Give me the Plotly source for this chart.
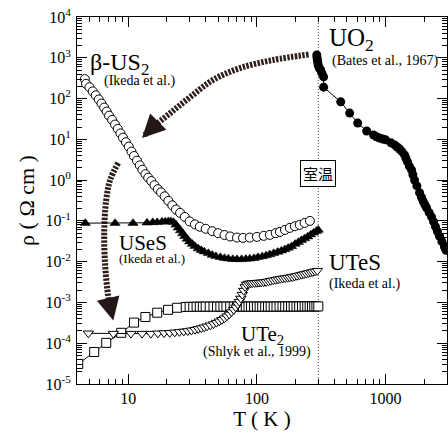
import math
import plotly.graph_objects as go

# ---------------- data ----------------
us2_T = [4.6, 4.7, 5.0, 5.3, 5.6, 5.9, 6.2, 6.5, 6.8, 7.1, 7.5, 7.9, 8.3, 8.7, 9.1, 9.6,
         10.1, 10.6, 11.1, 11.7, 12.3, 12.9, 13.6, 14.3, 15.1, 16.0, 17.0, 18.0, 19.2,
         20.5, 22.0, 23.5, 25.3, 27.5, 30, 33, 36, 40, 45, 50, 56, 62, 70, 78, 88, 100,
         113, 126, 140, 151, 165, 180, 197, 215, 235, 258]
us2_R = [300, 230, 190, 150, 120, 95, 75, 60, 48, 38, 30, 23, 18, 14, 11, 8.5,
         6.6, 5.0, 3.9, 3.0, 2.3, 1.8, 1.4, 1.15, 0.95, 0.75, 0.60, 0.50, 0.40,
         0.31, 0.24, 0.19, 0.157, 0.125, 0.097, 0.082, 0.072, 0.064, 0.056, 0.050, 0.045,
         0.0415, 0.039, 0.0383, 0.039, 0.0405, 0.043, 0.0454, 0.050, 0.0537, 0.060, 0.0673,
         0.074, 0.0798, 0.089, 0.100]

uses_T = [4.64, 7.9, 10.9, 14.0, 15.5, 16.8, 18.3, 19.4, 20.5, 21.5, 22.5, 23.5, 24.5,
          25.5, 26.5, 27.5, 28.7, 30, 31.5, 33, 35, 37, 39, 42, 45, 48, 52, 56, 60, 65,
          70, 76, 82, 88, 95, 102, 110, 118, 126, 135, 145, 155, 165, 175, 186, 198,
          210, 222, 235, 248, 262, 276, 290, 300]
uses_R = [0.088, 0.088, 0.088, 0.090, 0.092, 0.092, 0.095, 0.095, 0.097, 0.097, 0.093,
          0.080, 0.068, 0.058, 0.049, 0.042, 0.036, 0.031, 0.027, 0.024, 0.021, 0.019,
          0.0175, 0.016, 0.0145, 0.0135, 0.0128, 0.0122, 0.0118, 0.0115, 0.0114, 0.0114,
          0.0116, 0.0118, 0.0122, 0.0128, 0.0134, 0.0141, 0.0150, 0.0160, 0.0172, 0.0185,
          0.020, 0.0217, 0.0237, 0.027, 0.030, 0.0335, 0.037, 0.041, 0.046, 0.051, 0.056,
          0.060]

ute2_T = [4.09, 5.44, 6.75, 8.83, 11.1, 13.6, 16.8, 20.4, 24, 28, 30, 32, 34, 36, 38,
          40, 43, 46, 49, 52, 55, 58, 62, 66, 70, 74, 78, 82, 86, 90, 95, 100, 105, 110,
          116, 122, 128, 135, 142, 150, 158, 166, 175, 184, 193, 203, 213, 224, 235,
          246, 257, 268, 279, 290, 300]
ute2_R = [3.1e-5, 6.1e-5, 1.02e-4, 1.8e-4, 3.2e-4, 4.4e-4, 5.6e-4, 6.6e-4, 7.4e-4,
          7.75e-4, 7.8e-4, 7.8e-4, 7.85e-4, 7.85e-4, 7.85e-4, 7.9e-4, 7.9e-4, 7.9e-4,
          7.9e-4, 7.9e-4, 7.9e-4, 7.9e-4, 7.9e-4, 7.9e-4, 7.9e-4, 7.9e-4, 7.9e-4,
          7.9e-4, 7.9e-4, 7.9e-4, 7.9e-4, 7.9e-4, 7.9e-4, 7.9e-4, 7.9e-4, 7.9e-4,
          7.9e-4, 7.9e-4, 7.9e-4, 7.95e-4, 7.95e-4, 7.95e-4, 7.95e-4, 7.95e-4, 7.95e-4,
          7.95e-4, 7.95e-4, 8.0e-4, 8.0e-4, 8.0e-4, 8.0e-4, 8.0e-4, 8.0e-4, 8.0e-4,
          8.0e-4]

utes_T = [4.9, 7.66, 10.5, 12.8, 15.0, 17.0, 19.0, 21.0, 23, 25, 27, 29, 31, 33, 35,
          37, 39, 41, 43.5, 46, 48.5, 51, 53.5, 56, 58.5, 61, 63.5, 66, 68.5, 71, 73,
          75, 77, 79, 81, 83, 86, 89, 92, 96, 100, 104, 108, 113, 118, 123, 128, 134,
          140, 146, 152, 159, 166, 173, 180, 188, 196, 205, 214, 223, 232, 242, 252,
          262, 272, 283, 295]
utes_R = [1.75e-4, 1.72e-4, 1.72e-4, 1.72e-4, 1.72e-4, 1.75e-4, 1.78e-4, 1.8e-4,
          1.85e-4, 1.9e-4, 1.95e-4, 2.0e-4, 2.07e-4, 2.15e-4, 2.25e-4, 2.35e-4, 2.47e-4,
          2.6e-4, 2.75e-4, 2.95e-4, 3.2e-4, 3.45e-4, 3.75e-4, 4.1e-4, 4.6e-4, 5.1e-4,
          5.8e-4, 6.6e-4, 7.6e-4, 9.0e-4, 1.05e-3, 1.25e-3, 1.55e-3, 1.95e-3, 2.4e-3,
          2.75e-3, 2.9e-3, 2.95e-3, 2.97e-3, 3.0e-3, 3.05e-3, 3.08e-3, 3.1e-3, 3.15e-3,
          3.2e-3, 3.3e-3, 3.4e-3, 3.5e-3, 3.6e-3, 3.7e-3, 3.8e-3, 3.88e-3, 3.95e-3,
          4.05e-3, 4.12e-3, 4.22e-3, 4.35e-3, 4.5e-3, 4.65e-3, 4.8e-3, 4.95e-3, 5.1e-3,
          5.3e-3, 5.45e-3, 5.6e-3, 5.8e-3, 6.0e-3]

uo2_T = [292, 293, 295, 297, 300, 305, 313, 320, 330, 330, 448, 526, 607, 713, 807, 850,
         898, 950, 1000, 1100, 1175, 1230, 1285, 1340, 1404, 1440, 1482, 1530, 1592,
         1630, 1679, 1750, 1836, 1900, 1960, 2020, 2080, 2180, 2275, 2360, 2443, 2530,
         2624, 2740, 2867, 2950]
uo2_R = [1170, 1000, 880, 750, 650, 560, 500, 420, 340, 190, 83, 44, 25, 16, 12.8, 11.5,
         10.8, 10.2, 9.7, 8.2, 7.3, 6.5, 5.8, 5.0, 4.15, 3.4, 2.8, 2.2, 1.78, 1.35, 1.0,
         0.72, 0.49, 0.38, 0.30, 0.25, 0.21, 0.16, 0.125, 0.095, 0.072, 0.055, 0.042,
         0.031, 0.023, 0.019]

# decorative dotted arrows (data coordinates)
arrow1_T = [252, 133, 74, 45.6, 30.3, 21.2, 15.6, 13.4]
arrow1_R = [1200, 880, 560, 286, 109, 44, 20, 12.8]
arrow1_tip = (12.8, 10.8)
arrow2_T = [8.36, 7.24, 6.75, 6.51, 6.63, 7.0, 7.35]
arrow2_R = [2.64, 1.01, 0.327, 0.0508, 7.46e-3, 1.37e-3, 6.0e-4]
arrow2_tip = (7.66, 3.6e-4)

room_T = 300

x_tickvals = [10, 100, 1000]
x_ticktext = ["10", "100", "1000"]
y_tickvals = [1e-5, 1e-4, 1e-3, 1e-2, 1e-1, 1e0, 1e1, 1e2, 1e3, 1e4]
y_ticktext = ["10<sup>-5</sup>", "10<sup>-4</sup>", "10<sup>-3</sup>", "10<sup>-2</sup>",
              "10<sup>-1</sup>", "10<sup>0</sup>", "10<sup>1</sup>", "10<sup>2</sup>",
              "10<sup>3</sup>", "10<sup>4</sup>"]

x_minor = [m * 10 ** e for e in range(0, 4) for m in range(2, 10) if 4 < m * 10 ** e <= 3000]
y_minor = [m * 10.0 ** e for e in range(-5, 4) for m in range(2, 10)]

SERIF = "Liberation Serif"
L = math.log10

fig = go.Figure()

# room-temperature line
fig.add_trace(go.Scatter(x=[room_T, room_T], y=[1e-5, 1e4], mode="lines",
                         line=dict(color="#444", width=1, dash="1px,2px"),
                         hoverinfo="skip"))

# dotted arrows
for xs, ys in [(arrow1_T, arrow1_R), (arrow2_T, arrow2_R)]:
    fig.add_trace(go.Scatter(x=xs, y=ys, mode="lines",
                             line=dict(color="#2e1e1a", width=6, dash="2.4px,1.4px",
                                       shape="spline", smoothing=1.0),
                             hoverinfo="skip"))

MS = 9
fig.add_trace(go.Scatter(x=us2_T, y=us2_R, mode="lines+markers",
                         line=dict(color="black", width=1),
                         marker=dict(symbol="circle", size=MS, color="white",
                                     line=dict(color="black", width=1))))
fig.add_trace(go.Scatter(x=uses_T, y=uses_R, mode="lines+markers",
                         line=dict(color="black", width=1),
                         marker=dict(symbol="triangle-up", size=MS, color="black",
                                     line=dict(color="black", width=0.5))))
fig.add_trace(go.Scatter(x=ute2_T, y=ute2_R, mode="lines+markers",
                         line=dict(color="black", width=1),
                         marker=dict(symbol="square", size=MS, color="white",
                                     line=dict(color="black", width=1))))
fig.add_trace(go.Scatter(x=utes_T, y=utes_R, mode="lines+markers",
                         line=dict(color="black", width=1),
                         marker=dict(symbol="triangle-down", size=MS, color="white",
                                     line=dict(color="black", width=1))))
fig.add_trace(go.Scatter(x=uo2_T, y=uo2_R, mode="lines+markers",
                         line=dict(color="black", width=1),
                         marker=dict(symbol="circle", size=MS, color="black")))

annotations = []


def label(text, T, R, size):
    annotations.append(dict(x=L(T), y=L(R), xref="x", yref="y", text=text,
                            showarrow=False, xanchor="left", yanchor="middle",
                            font=dict(family=SERIF, size=size, color="black")))


label("β-US<sub>2</sub>", 4.9, 700, 24)
label("(Ikeda et al.)", 6.28, 270, 14)
label("UO<sub>2</sub>", 349, 2800, 25)
label("(Bates et al., 1967)", 368, 850, 14)
label("USeS", 8.2, 0.029, 21)
label("(Ikeda et al.)", 8.2, 0.0117, 13)
label("UTeS", 349, 0.0094, 23)
label("(Ikeda et al.)", 349, 0.00286, 14)
label("UTe<sub>2</sub>", 72.5, 1.6e-4, 21)
label("(Shlyk et al., 1999)", 36.5, 6.1e-5, 14)

annotations.append(dict(x=L(room_T), y=L(1.42), xref="x", yref="y", text="室温",
                        showarrow=False, xanchor="center", yanchor="middle",
                        bgcolor="white", bordercolor="black", borderwidth=1, borderpad=2,
                        font=dict(family="Noto Sans CJK JP", size=15, color="black")))

for tip, ax, ay in [(arrow1_tip, 9, -9), (arrow2_tip, -3, -13)]:
    annotations.append(dict(x=L(tip[0]), y=L(tip[1]), xref="x", yref="y", text="",
                            showarrow=True, arrowhead=2, arrowsize=2.3, arrowwidth=2,
                            arrowcolor="#231815", ax=ax, ay=ay, standoff=0))

fig.update_layout(
    width=448, height=434,
    margin=dict(l=77, r=1, t=17, b=50),
    paper_bgcolor="white", plot_bgcolor="white",
    showlegend=False,
    font=dict(family=SERIF, size=16, color="black"),
    annotations=annotations,
    xaxis=dict(type="log", range=[L(4), L(3000)], tickmode="array",
               tickvals=x_tickvals, ticktext=x_ticktext, automargin=False,
               ticks="inside", ticklen=10, tickwidth=1, tickcolor="black",
               showline=True, linecolor="black", linewidth=1, mirror="allticks",
               showgrid=False, zeroline=False,
               tickfont=dict(family=SERIF, size=16),
               minor=dict(tickmode="array", tickvals=x_minor, ticks="inside",
                          ticklen=5, tickwidth=1, tickcolor="black", showgrid=False),
               title=dict(text="T ( K )", font=dict(family=SERIF, size=21), standoff=4)),
    yaxis=dict(type="log", range=[-5, 4], tickmode="array",
               tickvals=y_tickvals, ticktext=y_ticktext, automargin=False,
               ticks="inside", ticklen=10, tickwidth=1, tickcolor="black",
               showline=True, linecolor="black", linewidth=1, mirror="allticks",
               showgrid=False, zeroline=False,
               tickfont=dict(family=SERIF, size=16),
               ticklabelstandoff=2,
               minor=dict(tickmode="array", tickvals=y_minor, ticks="inside",
                          ticklen=5, tickwidth=1, tickcolor="black", showgrid=False),
               title=dict(text="ρ ( Ω cm )", font=dict(family=SERIF, size=22), standoff=4)),
)

fig.write_html("out.html", config={"displayModeBar": False},
               post_script="document.body.style.margin='0';document.body.style.overflow='hidden';")
